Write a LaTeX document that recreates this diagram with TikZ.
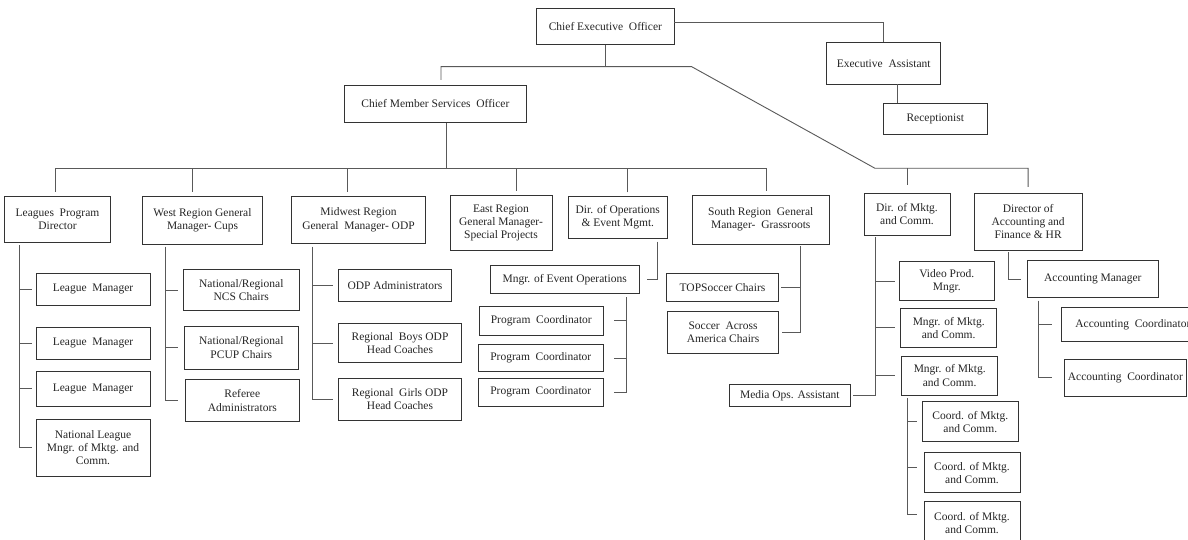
\documentclass[tikz,border=0pt]{standalone}
\usepackage{fontspec}
\setmainfont{Liberation Serif}
\newcommand\obox[6]{\node[box,minimum width={(#4-#2)*1pt},minimum height={(#5-#3)*1pt}] (#1) at ({(#2+#4)/2},{(#3+#5)/2}) {#6};}
\begin{document}
\begin{tikzpicture}[x=1pt,y=-1pt,
  box/.style={draw=black!80,line width=0.8pt,inner sep=1pt,align=center,text=black!85,font=\fontsize{11.5}{13.3}\selectfont},
  conn/.style={draw=black!65,line width=0.9pt}]
\useasboundingbox (0,0) rectangle (1188,540);
\clip (0,0) rectangle (1188,540);
\fill[white] (0,0) rectangle (1188,540);
% top level
\obox{ceo}{536.7}{8}{674}{44.3}{Chief Executive\ \ Officer}
\obox{ea}{826.7}{42.7}{940.7}{84}{Executive\ \ Assistant}
\obox{rec}{883.3}{103.3}{987.3}{134}{Receptionist}
\obox{cmso}{344}{85.3}{526.7}{122.3}{Chief Member Services\ \ Officer}
% second level
\obox{lpd}{4.7}{196}{110.3}{242}{Leagues\ \ Program\\Director}
\obox{wr}{142.3}{196}{262.7}{244.3}{West Region General\\Manager- Cups}
\obox{mw}{291.7}{196}{425.3}{243.3}{Midwest Region\\General\ \ Manager- ODP}
\obox{er}{450}{195}{552}{250.7}{East Region\\General Manager-\\Special Projects}
\obox{dops}{568.3}{196.7}{667.3}{238.3}{Dir. of Operations\\\& Event Mgmt.}
\obox{sr}{692.5}{195}{829}{244}{South Region\ \ General\\Manager-\ \ Grassroots}
\obox{dm}{864}{193.3}{950}{235}{Dir. of Mktg.\\and Comm.}
\obox{dacc}{974}{193.3}{1082.3}{250}{Director of\\Accounting and\\Finance \& HR}
% leagues
\obox{lm1}{36}{273.3}{150}{305}{League\ \ Manager}
\obox{lm2}{36}{327.3}{150}{359.3}{League\ \ Manager}
\obox{lm3}{36}{371.7}{150}{406}{League\ \ Manager}
\obox{nl}{36}{419.3}{150}{476}{National League\\Mngr. of Mktg. and\\Comm.}
% west
\obox{ncs}{183.3}{269.3}{299.3}{310.7}{National/Regional\\NCS Chairs}
\obox{pcup}{184.3}{326}{298.3}{369}{National/Regional\\PCUP Chairs}
\obox{ref}{185.3}{379.3}{299.3}{421.7}{Referee\\Administrators}
% midwest
\obox{odp}{338.3}{269.3}{451.7}{301.7}{ODP Administrators}
\obox{rb}{338.3}{323.3}{461.7}{362.7}{Regional\ \ Boys ODP\\Head Coaches}
\obox{rg}{338.3}{378.3}{461.7}{420}{Regional\ \ Girls ODP\\Head Coaches}
% operations
\obox{meo}{490}{265}{639.3}{293.7}{Mngr. of Event Operations}
\obox{pc1}{479.3}{306.7}{603.3}{335}{Program\ \ Coordinator}
\obox{pc2}{478.3}{344.3}{603.3}{371.7}{Program\ \ Coordinator}
\obox{pc3}{478.3}{378.3}{603.3}{406}{Program\ \ Coordinator}
% south
\obox{tops}{666.7}{273.3}{778.3}{301.7}{TOPSoccer Chairs}
\obox{saa}{667.7}{311}{778.3}{353.3}{Soccer\ \ Across\\America Chairs}
% marketing
\obox{moa}{729}{384}{850.7}{406.7}{Media Ops. Assistant}
\obox{vp}{899.3}{261.7}{994.3}{300.7}{Video Prod.\\Mngr.}
\obox{mm1}{900.7}{308.3}{996.7}{347.3}{Mngr. of Mktg.\\and Comm.}
\obox{mm2}{901.7}{356}{997.7}{395}{Mngr. of Mktg.\\and Comm.}
\obox{c1}{922.3}{401.7}{1018.3}{441.7}{Coord. of Mktg.\\and Comm.}
\obox{c2}{924}{452.7}{1020}{492.7}{Coord. of Mktg.\\and Comm.}
\obox{c3}{924}{501.7}{1020}{545}{Coord. of Mktg.\\and Comm.}
% accounting
\obox{am}{1027.3}{260.7}{1158.3}{297.3}{Accounting Manager}
\obox{ac1}{1061.7}{307.3}{1204}{341.7}{Accounting\ \ Coordinator}
\obox{ac2}{1064}{359.3}{1186.7}{396}{Accounting\ \ Coordinator}
% ---- connectors ----
\coordinate (jd1) at (691.7,66.7);
\coordinate (jd2) at (875,168.3);
\coordinate (xc) at (441,0);
\coordinate (xr) at (897.3,0);
\draw[conn] ([yshift=3.5pt]ceo.east) -| (ea.north);
\draw[conn] (ea.south -| xr) -- (rec.north -| xr);
\draw[conn] (ceo.south) -- (ceo.south |- jd1);
\draw[conn,shorten <=5pt,shorten >=6pt] (cmso.north -| xc) |- (jd1) -- (jd2) -| (dacc.north);
\draw[conn,shorten <=8pt] (dm.north) -- (dm.north |- jd2);
% left bus
\coordinate (xcm) at (446,0);
\coordinate (dl) at (55,168);
\coordinate (dw) at (192.3,168);
\coordinate (dmw) at (347.3,168);
\coordinate (de) at (516,168);
\coordinate (do) at (627.7,168);
\coordinate (ds) at (766.7,168);
\draw[conn] (cmso.south -| xcm) -- (xcm |- dl);
\draw[conn] (dl) -- (ds);
\foreach \n/\c in {lpd/dl,wr/dw,mw/dmw,er/de,dops/do,sr/ds}
  \draw[conn,shorten <=4pt] (\n.north -| \c) -- (\c);
% leagues
\coordinate (vl) at (19,0);
\draw[conn,shorten <=3pt] (lpd.south -| vl) |- ([xshift=-4pt]nl.west);
\foreach \n in {lm1,lm2,lm3} \draw[conn] (vl |- \n.west) -- ([xshift=-4pt]\n.west);
% west
\coordinate (vw) at (165,0);
\draw[conn,shorten <=2pt] (wr.south -| vw) |- ([xshift=-7pt]ref.west);
\draw[conn] (vw |- ncs.west) -- ([xshift=-5pt]ncs.west);
\draw[conn] (vw |- pcup.west) -- ([xshift=-6pt]pcup.west);
% midwest
\coordinate (vm) at (312.3,0);
\draw[conn,shorten <=3pt] (mw.south -| vm) |- ([xshift=-5pt]rg.west);
\draw[conn] (vm |- odp.west) -- ([xshift=-5pt]odp.west);
\draw[conn] (vm |- rb.west) -- ([xshift=-5pt]rb.west);
% operations
\coordinate (vo) at (657.3,0);
\coordinate (vpc) at (626.7,0);
\draw[conn,shorten <=3pt] (dops.south -| vo) |- ([xshift=7pt]meo.east);
\draw[conn,shorten <=3pt] (meo.south -| vpc) |- ([xshift=10pt]pc3.east);
\draw[conn] (vpc |- pc1.east) -- ([xshift=10pt]pc1.east);
\draw[conn] (vpc |- pc2.east) -- ([xshift=10pt]pc2.east);
% south
\coordinate (vs) at (800.7,0);
\draw[conn,shorten <=2pt] (sr.south -| vs) |- ([xshift=3pt]saa.east);
\draw[conn] (vs |- tops.east) -- ([xshift=2pt]tops.east);
% marketing
\coordinate (vmk) at (875,0);
\draw[conn,shorten <=2pt] (dm.south -| vmk) |- ([xshift=2pt]moa.east);
\draw[conn] (vmk |- vp.west) -- ([xshift=-4pt]vp.west);
\draw[conn] (vmk |- mm1.west) -- ([xshift=-5pt]mm1.west);
\draw[conn] (vmk |- mm2.west) -- ([xshift=-6pt]mm2.west);
\coordinate (vcd) at (907.3,0);
\coordinate (t2) at ([xshift=-7pt,yshift=5pt]c2.west);
\draw[conn,shorten <=3pt] (mm2.south -| vcd) |- ([xshift=-7pt,yshift=9pt]c3.west);
\draw[conn] (vcd |- c1.west) -- ([xshift=-5pt]c1.west);
\draw[conn] (vcd |- t2) -- (t2);
% accounting
\coordinate (va) at (1008.3,0);
\draw[conn,shorten <=2pt] (dacc.south -| va) |- ([xshift=-5.6pt]am.west);
\coordinate (vam) at (1038.3,0);
\draw[conn,shorten <=3pt] (am.south -| vam) |- ([xshift=-11.7pt]ac2.west);
\draw[conn] (vam |- ac1.west) -- ([xshift=-9.4pt]ac1.west);
\end{tikzpicture}
\end{document}
